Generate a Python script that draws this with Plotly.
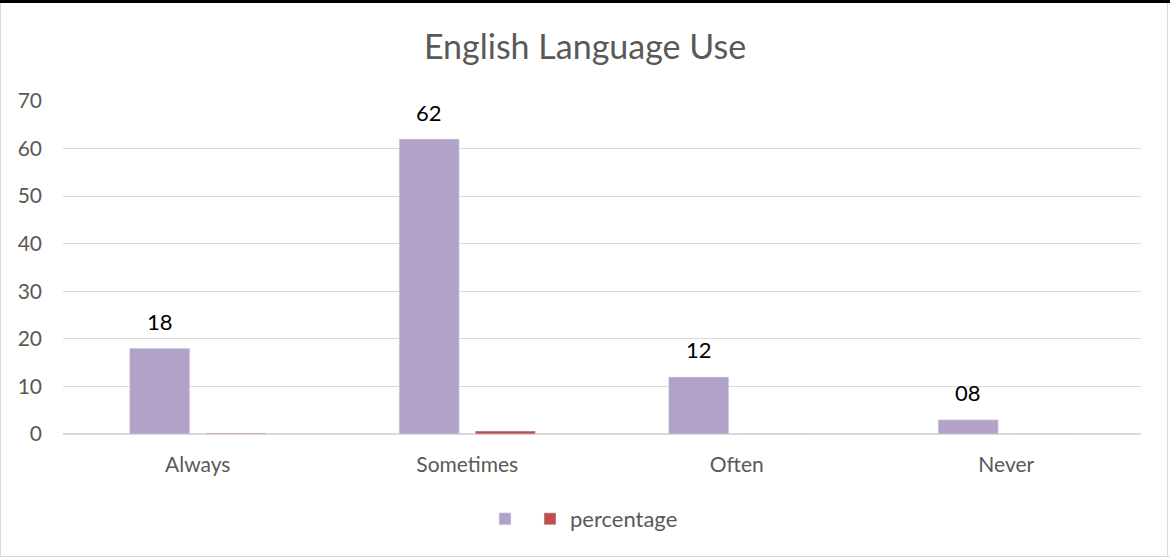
import plotly.graph_objects as go

categories = ["Always", "Sometimes", "Often", "Never"]
counts = [18, 62, 12, 3]
count_labels = ["18", "62", "12", "08"]
percentage = [0.18, 0.62, 0.12, 0.03]

W, H = 1170, 557
ml, mr, mt, mb = 63, 29, 101, 123
pw, ph = W - ml - mr, H - mt - mb

fig = go.Figure()
fig.add_trace(go.Bar(
    x=categories, y=counts, name="",
    marker=dict(color="#b2a2c7"),
))
fig.add_trace(go.Bar(
    x=categories, y=percentage, name="percentage",
    marker=dict(color="#c0504d"),
))

# data labels above the first series' bars (positioned via axes, offset upward)
annotations = []
for c, v, t in zip(categories, counts, count_labels):
    annotations.append(dict(
        x=c, y=v, xref="x", yref="y", text=t, showarrow=False,
        xshift=-38, yshift=27, yanchor="middle",
        font=dict(size=22, color="#000000", family="Lato"),
    ))

def px(x):
    return (x - ml) / pw

def py(y):
    return (H - mb - y) / ph

shapes = [
    dict(type="rect", xref="paper", yref="paper", x0=px(0), x1=px(W), y0=py(0), y1=py(3),
         fillcolor="#000000", line=dict(width=0), layer="above"),
    dict(type="line", xref="paper", yref="paper", x0=px(0.5), x1=px(0.5), y0=py(3), y1=py(H),
         line=dict(color="#d9d9d9", width=1)),
    dict(type="line", xref="paper", yref="paper", x0=px(W - 2.5), x1=px(W - 2.5), y0=py(3), y1=py(H),
         line=dict(color="#d9d9d9", width=1)),
    dict(type="line", xref="paper", yref="paper", x0=px(0), x1=px(W), y0=py(H - 0.5), y1=py(H - 0.5),
         line=dict(color="#d9d9d9", width=1)),
]

fig.update_layout(
    width=W, height=H,
    margin=dict(l=ml, r=mr, t=mt, b=mb, pad=0),
    paper_bgcolor="#ffffff", plot_bgcolor="#ffffff",
    font=dict(family="Lato", size=21, color="#595959"),
    title=dict(text="English Language Use", x=0.5, xanchor="center",
               y=1 - 47 / H, yanchor="middle",
               font=dict(size=34, color="#595959", family="Lato")),
    barmode="group", bargap=0.435, bargroupgap=0.21,
    showlegend=True,
    legend=dict(orientation="h", x=px(584), xanchor="center", y=py(519), yanchor="middle",
                font=dict(size=22, color="#595959"), traceorder="normal",
                itemwidth=30),
    shapes=shapes,
    annotations=annotations,
    xaxis=dict(showgrid=False, showline=True, linecolor="#d9d9d9", linewidth=1,
               ticks="", tickfont=dict(size=21, color="#595959"), ticklabelstandoff=12),
    yaxis=dict(range=[0, 70], dtick=10, showgrid=True, gridcolor="#d9d9d9", gridwidth=1,
               zeroline=True, zerolinecolor="#d9d9d9", showline=False, ticks="",
               tickfont=dict(size=21, color="#595959"), ticklabelstandoff=20),
)

fig.write_html("out.html")
